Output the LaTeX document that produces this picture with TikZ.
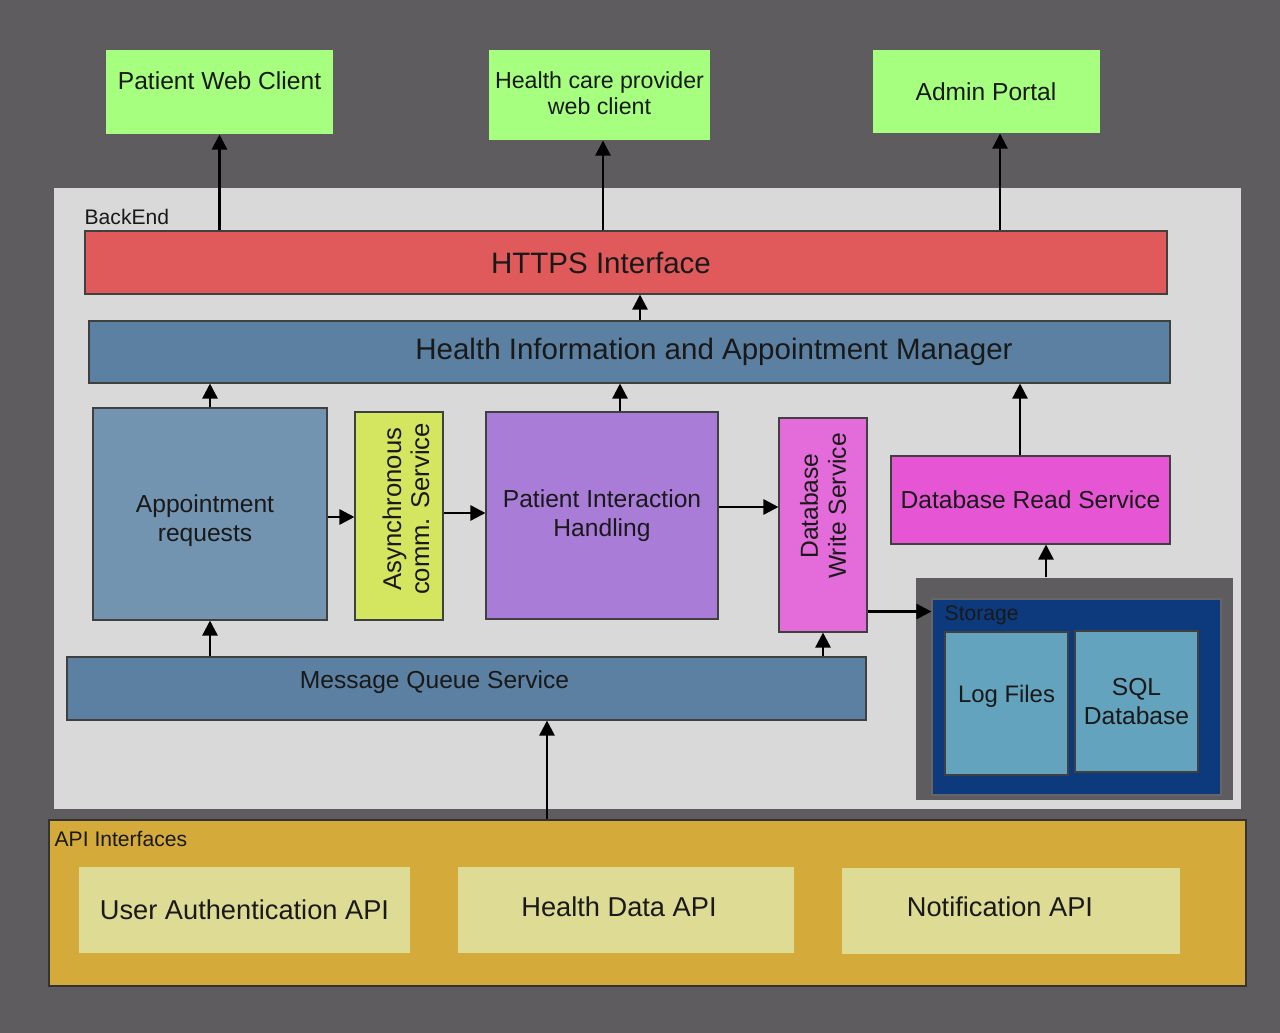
\documentclass[tikz,border=0pt]{standalone}
\usepackage{fontspec}
\setmainfont{Liberation Sans}
\usetikzlibrary{arrows.meta, positioning, calc}
\definecolor{bggray}{HTML}{5E5C5E}
\definecolor{clientgreen}{HTML}{A6FF7F}
\definecolor{backgray}{HTML}{D9D9D9}
\definecolor{httpsred}{HTML}{E05A5B}
\definecolor{mgrblue}{HTML}{5B80A1}
\definecolor{apptblue}{HTML}{7394B0}
\definecolor{asyncgreen}{HTML}{D4E65F}
\definecolor{pihpurple}{HTML}{A97CD8}
\definecolor{dbwpink}{HTML}{E46BDA}
\definecolor{dbrmag}{HTML}{E656D4}
\definecolor{storenavy}{HTML}{0D3A7C}
\definecolor{logblue}{HTML}{64A3BD}
\definecolor{apigold}{HTML}{D4AA3A}
\definecolor{apicream}{HTML}{DEDB95}
\tikzstyle{conn}=[arrows={-{Triangle[length=0.3cm, width=0.3cm]}}, line width=1.4pt]
\tikzset{
    box/.style args={#1 and #2}{
         minimum width=#1*0.02cm, minimum height=#2*0.02cm, inner sep=0pt,
         draw=black!75, line width=0.6pt
    },
    bigtxt/.style={font=\fontsize{16.8}{19}\selectfont, text=black!90},
    medtxt/.style={font=\fontsize{14}{16.4}\selectfont, text=black!90, align=center},
    apitxt/.style={font=\fontsize{15.5}{18}\selectfont, text=black!90},
    smalltxt/.style={font=\fontsize{12}{14}\selectfont, text=black!90}
}
\begin{document}
\begin{tikzpicture}[x=0.02cm, y=-0.02cm]
  \useasboundingbox (0,0) rectangle (1280,1033);
  \fill[bggray] (0,0) rectangle (1280,1033);

  % clients
  \node[box={227 and 84}, fill=clientgreen, draw=none,
        label={[medtxt, yshift=0.22cm]center:Patient Web Client}] (pwc) at (219.5,92) {};
  \node[box={221 and 90}, fill=clientgreen, draw=none,
        label={[medtxt, font=\fontsize{13.2}{14.7}\selectfont, yshift=0.04cm]center:Health care provider\\web client}] (hcp) at (599.5,95) {};
  \node[box={227 and 83}, fill=clientgreen, draw=none, medtxt] (admin) at (986,91.5) {Admin Portal};

  % backend
  \node[box={1187 and 621}, fill=backgray, draw=none,
        label={[smalltxt, anchor=west, xshift=0.5cm, yshift=-0.58cm]north west:BackEnd}] (backend) at (647.5,498.5) {};
  \node[box={1082 and 63}, fill=httpsred,
        label={[bigtxt, xshift=-0.5cm]center:HTTPS Interface}] (https) at (626,262.5) {};
  \node[box={1081 and 62}, fill=mgrblue,
        label={[bigtxt, xshift=1.69cm]center:Health Information and Appointment Manager}] (mgr) at (629.5,352) {};
  \node[box={234 and 212}, fill=apptblue,
        label={[medtxt, xshift=-0.1cm, yshift=-0.14cm]center:Appointment\\requests}] (appt) at (210,514) {};
  \node[box={88 and 208}, fill=asyncgreen,
        label={[medtxt, rotate=90, font=\fontsize{14.6}{15.9}\selectfont, xshift=0.14cm, yshift=-0.14cm]center:Asynchronous\\comm. Service}] (async) at (399,516) {};
  \node[box={232 and 207}, fill=pihpurple, medtxt] (pih) at (602,515.5) {Patient Interaction\\Handling};
  \node[box={88 and 214}, fill=dbwpink,
        label={[medtxt, rotate=90, font=\fontsize{14}{15.9}\selectfont, xshift=0.38cm]center:Database\\Write Service}] (dbw) at (823,525) {};
  \node[box={279 and 88}, fill=dbrmag, medtxt] (dbr) at (1030.5,500) {Database Read Service};

  % storage
  \node[box={317 and 222}, fill=bggray, draw=none] (stor) at (1074.5,689) {};
  \node[box={289 and 196}, fill=storenavy, draw=black!60,
        label={[smalltxt, anchor=west, xshift=0.14cm, yshift=-0.34cm]north west:Storage}] (storin) at (1076.5,697) {};
  \node[box={123 and 143}, fill=logblue,
        label={[medtxt, font=\fontsize{13.6}{16}\selectfont, yshift=0.14cm]center:Log Files}] (logf) at (1006.5,703.5) {};
  \node[box={123 and 141}, fill=logblue, medtxt] (sqldb) at (1136.5,701.5) {SQL\\Database};

  \node[box={799 and 63}, fill=mgrblue,
        label={[medtxt, xshift=-0.64cm, yshift=0.12cm]center:Message Queue Service}] (mqs) at (466.5,688.5) {};

  % api layer
  \node[box={1197 and 166}, fill=apigold, draw=black!80,
        label={[smalltxt, anchor=west, xshift=0cm, yshift=-0.38cm]north west:API Interfaces}] (apibox) at (647.5,903) {};
  \node[box={331 and 86}, fill=apicream, draw=none, apitxt] (uauth) at (244.5,910) {User Authentication API};
  \node[box={336 and 86}, fill=apicream, draw=none,
        label={[apitxt, xshift=-0.14cm, yshift=0.06cm]center:Health Data API}] (hdata) at (626,910) {};
  \node[box={338 and 86}, fill=apicream, draw=none,
        label={[apitxt, xshift=-0.22cm, yshift=0.08cm]center:Notification API}] (notif) at (1011,911) {};

  % connectors
  \draw[conn] (pwc.south |- https.north) -- (pwc.south);
  \draw[conn] ([xshift=0.07cm]hcp.south |- https.north) -- ([xshift=0.07cm]hcp.south);
  \draw[conn] ([xshift=0.28cm]admin.south |- https.north) -- ([xshift=0.28cm]admin.south);
  \draw[conn] ([xshift=0.28cm]https.south |- mgr.north) -- ([xshift=0.28cm]https.south);
  \draw[conn] (appt.north) -- (appt.north |- mgr.south);
  \draw[conn] ([xshift=0.36cm]pih.north) -- ([xshift=0.36cm]pih.north |- mgr.south);
  \draw[conn] ([xshift=-0.21cm]dbr.north) -- ([xshift=-0.21cm]dbr.north |- mgr.south);
  \draw[conn] ([yshift=-0.06cm]appt.east) -- ([yshift=-0.06cm]appt.east -| async.west);
  \draw[conn] ([yshift=0.06cm]async.east) -- ([yshift=0.06cm]async.east -| pih.west);
  \draw[conn] ([yshift=0.17cm]pih.east) -- ([yshift=0.17cm]pih.east -| dbw.west);
  \draw[conn] ([yshift=0.42cm]dbw.south east) -- ([yshift=0.42cm]dbw.south east -| storin.west);
  \draw[conn] (dbw.south |- mqs.north) -- (dbw.south);
  \draw[conn] (appt.south |- mqs.north) -- (appt.south);
  \draw[conn] ([xshift=0.31cm]dbr.south |- stor.north) -- ([xshift=0.31cm]dbr.south);
  \draw[conn] ([xshift=1.61cm]mqs.south |- apibox.north) -- ([xshift=1.61cm]mqs.south);
\end{tikzpicture}
\end{document}
